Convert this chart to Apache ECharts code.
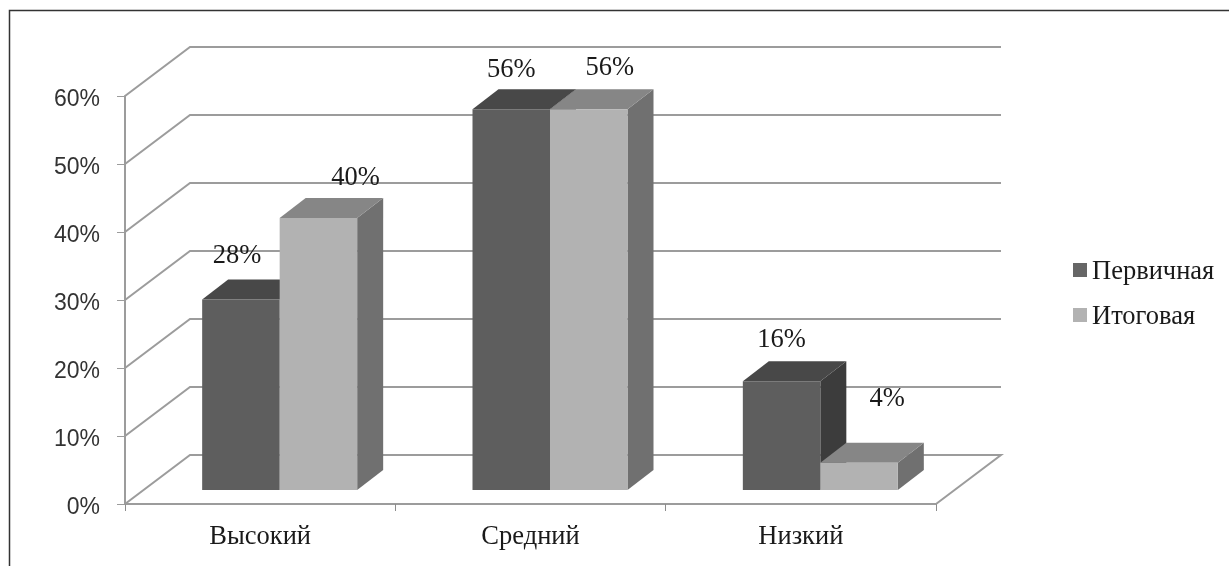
<!DOCTYPE html>
<html>
<head>
<meta charset="utf-8">
<style>html,body{margin:0;padding:0;background:#fff}#c{width:1229px;height:566px}</style>
<script src="https://cdn.jsdelivr.net/npm/echarts@6/dist/echarts.min.js"></script>
</head>
<body>
<div id="c"></div>
<script>
const categories = ['Высокий', 'Средний', 'Низкий'];
const primary = [28, 56, 16];
const finalTest = [40, 56, 4];
const valueTicks = [0, 10, 20, 30, 40, 50, 60];
const seriesNames = ['Первичная', 'Итоговая'];

// projection constants of the pseudo-3D view
const WALL_DX = 65, WALL_DY = 49, PLANE_DY = 14;
const BAR_W = 77.5, DEPTH_DX = 26, DEPTH_DY = 20;
const SERIF = '"Liberation Serif","Times New Roman",serif';

// hand-placed data labels in the reference: [dx, dy] from the bar's front-top centre
const labelNudge = [
  [[-4, -44], [0, -39], [0, -41]],
  [[37, -40], [21, -41], [28, -64]]
];

const chart = echarts.init(document.getElementById('c'));

function wallItem(params, api) {
  const p = api.coord([0, api.value(0)]);
  const x0 = params.coordSys.x, x1 = x0 + params.coordSys.width, y = p[1];
  const pts = [[x0, y], [x0 + WALL_DX, y - WALL_DY], [x1 + WALL_DX, y - WALL_DY]];
  if (api.value(0) === 0) pts.push([x1, y]);
  return {
    type: 'polyline',
    shape: { points: pts },
    style: { stroke: '#9c9c9c', lineWidth: 2, fill: null },
    silent: true
  };
}

function barRenderer(si, colors) {
  return function (params, api) {
    const i = api.value(0), v = api.value(1);
    const top = api.coord([i, v]), base = api.coord([i, 0]);
    const cx = top[0] + 19.5;
    const xL = si === 0 ? cx - BAR_W : cx;
    const xR = xL + BAR_W;
    const yT = top[1] - PLANE_DY, yB = base[1] - PLANE_DY;
    const dx = DEPTH_DX, dy = DEPTH_DY;
    const n = labelNudge[si][i];
    return {
      type: 'group',
      children: [
        { type: 'polygon', shape: { points: [[xR, yT], [xR + dx, yT - dy], [xR + dx, yB - dy], [xR, yB]] }, style: { fill: colors.side } },
        { type: 'polygon', shape: { points: [[xL, yT], [xL + dx, yT - dy], [xR + dx, yT - dy], [xR, yT]] }, style: { fill: colors.top } },
        { type: 'rect', shape: { x: xL, y: yT, width: BAR_W, height: yB - yT }, style: { fill: colors.front } },
        { type: 'text', style: {
            x: (xL + xR) / 2 + n[0], y: yT + n[1], text: v + '%',
            align: 'center', verticalAlign: 'middle',
            fill: '#1a1a1a', font: '26.5px ' + SERIF
        } }
      ]
    };
  };
}

chart.setOption({
  animation: false,
  backgroundColor: '#fff',
  graphic: [{
    type: 'polyline',
    shape: { points: [[9.5, 566], [9.5, 10.5], [1229, 10.5]] },
    style: { stroke: '#333', lineWidth: 1.5, fill: null },
    silent: true
  }],
  grid: { left: 125, top: 96, width: 811, height: 408 },
  xAxis: {
    type: 'category',
    data: categories,
    boundaryGap: true,
    axisLine: { lineStyle: { color: '#9c9c9c', width: 2 } },
    axisTick: { show: true, length: 7, alignWithLabel: false, lineStyle: { color: '#8c8c8c', width: 1 } },
    axisLabel: { color: '#1a1a1a', fontFamily: SERIF, fontSize: 26.5, margin: 20 }
  },
  yAxis: {
    type: 'value',
    min: 0, max: 60, interval: 10,
    splitLine: { show: false },
    axisLine: { show: true, lineStyle: { color: '#9c9c9c', width: 2 } },
    axisTick: { show: true, length: 8, lineStyle: { color: '#9c9c9c', width: 1 } },
    axisLabel: {
      margin: 25,
      formatter: '{a|{value}%}',
      rich: { a: { color: '#333', fontFamily: '"Liberation Sans",Arial,sans-serif', fontSize: 23, padding: [8, 0, 0, 0] } }
    }
  },
  legend: {
    orient: 'vertical',
    left: 1068, top: 254,
    itemWidth: 14, itemHeight: 14, itemGap: 18,
    icon: 'rect',
    data: seriesNames,
    formatter: '{a|{name}}',
    textStyle: { rich: { a: { color: '#1a1a1a', fontFamily: SERIF, fontSize: 26.5, padding: [5, 0, 0, 0] } } }
  },
  series: [
    { type: 'custom', name: 'wall', renderItem: wallItem, data: valueTicks.map(v => [v]), encode: { y: 0 }, z: 1, silent: true, clip: false },
    { type: 'custom', name: seriesNames[0], renderItem: barRenderer(0, { front: '#5e5e5e', top: '#484848', side: '#3c3c3c' }),
      data: primary.map((v, i) => [i, v]), encode: { x: 0, y: 1 }, itemStyle: { color: '#666666' }, z: 2, clip: false },
    { type: 'custom', name: seriesNames[1], renderItem: barRenderer(1, { front: '#b2b2b2', top: '#868686', side: '#707070' }),
      data: finalTest.map((v, i) => [i, v]), encode: { x: 0, y: 1 }, itemStyle: { color: '#b2b2b2' }, z: 3, clip: false }
  ]
});
</script>
</body>
</html>
